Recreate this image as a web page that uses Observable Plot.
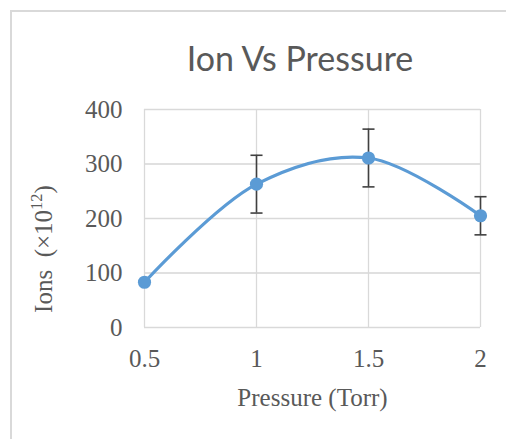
<!DOCTYPE html>
<html>
<head>
<meta charset="utf-8">
<script src="https://cdn.jsdelivr.net/npm/d3@7"></script>
<script src="https://cdn.jsdelivr.net/npm/@observablehq/plot@0.6"></script>
<style>
  html, body { margin: 0; padding: 0; background: #fff; }
  #wrap { position: relative; width: 506px; height: 439px; overflow: hidden; }
  #border { position: absolute; left: 10px; top: 10px; width: 520px; height: 460px;
            border-top: 2px solid #d9d9d9; border-left: 2px solid #d9d9d9; box-sizing: border-box; }
  #title { position: absolute; left: 0; width: 600px; top: 37px; text-align: center;
           font-family: Lato, sans-serif; font-size: 34px; color: #595959; white-space: nowrap; }
  #ylabel { position: absolute; left: 43px; top: 249px; transform: translate(-50%, -50%) rotate(-90deg);
            font-family: 'Liberation Serif', 'Times New Roman', serif; font-size: 25px; color: #595959;
            white-space: nowrap; line-height: 1; }
  #ylabel sup { font-size: 0.66em; vertical-align: 0.55em; line-height: 0; }
  #chart { position: absolute; left: 0; top: 0; }
</style>
</head>
<body>
<div id="wrap">
  <div id="border"></div>
  <div id="title">Ion Vs Pressure</div>
  <div id="chart"></div>
  <div id="ylabel">Ions&nbsp;&nbsp;(×10<sup>12</sup>)</div>
</div>
<script>
const pressure = [0.5, 1, 1.5, 2];
const ions = [83, 263, 311, 205];
const errors = [0, 53, 53, 35];
const xTicks = [0.5, 1, 1.5, 2];
const yTicks = [0, 100, 200, 300, 400];

const data = pressure.map((p, i) => ({p, v: ions[i], e: errors[i]}));
const errData = data.filter(d => d.e > 0);

const capSymbol = {
  draw(ctx, size) {
    const w = Math.sqrt(size);
    ctx.moveTo(-w / 2, 0);
    ctx.lineTo(w / 2, 0);
  }
};

const blue = "#5b9bd5";
const gray = "#595959";

const chart = Plot.plot({
  width: 506,
  height: 439,
  marginLeft: 144,
  marginRight: 26,
  marginTop: 109,
  marginBottom: 112,
  style: { fontFamily: "'Liberation Serif', 'Times New Roman', serif", fontSize: "25px", color: gray, background: "transparent" },
  x: { domain: [0.5, 2], ticks: xTicks, tickFormat: d => String(d), tickSize: 0, tickPadding: 22, grid: true,
       label: "Pressure (Torr)", labelAnchor: "center", labelArrow: "none", labelOffset: 78 },
  y: { domain: [0, 400], ticks: yTicks, tickFormat: d => String(d), tickSize: 0, tickPadding: 22, grid: true,
       label: null },
  marks: [
    Plot.gridX(xTicks, { stroke: "#d9d9d9", strokeOpacity: 1, strokeWidth: 1.3 }),
    Plot.gridY(yTicks, { stroke: "#d9d9d9", strokeOpacity: 1, strokeWidth: 1.3 }),
    Plot.ruleX(errData, { x: "p", y1: d => d.v - d.e, y2: d => d.v + d.e, stroke: "#404040", strokeWidth: 1.6 }),
    Plot.dot(errData, { x: "p", y: d => d.v + d.e, symbol: capSymbol, r: 6.8, stroke: "#404040", strokeWidth: 1.6, fill: "none" }),
    Plot.dot(errData, { x: "p", y: d => d.v - d.e, symbol: capSymbol, r: 6.8, stroke: "#404040", strokeWidth: 1.6, fill: "none" }),
    Plot.line(data, { x: "p", y: "v", curve: "catmull-rom", stroke: blue, strokeWidth: 3.2 }),
    Plot.dot(data, { x: "p", y: "v", r: 6.6, fill: blue, stroke: blue, strokeWidth: 0 })
  ]
});
document.getElementById("chart").appendChild(chart);
</script>
</body>
</html>
